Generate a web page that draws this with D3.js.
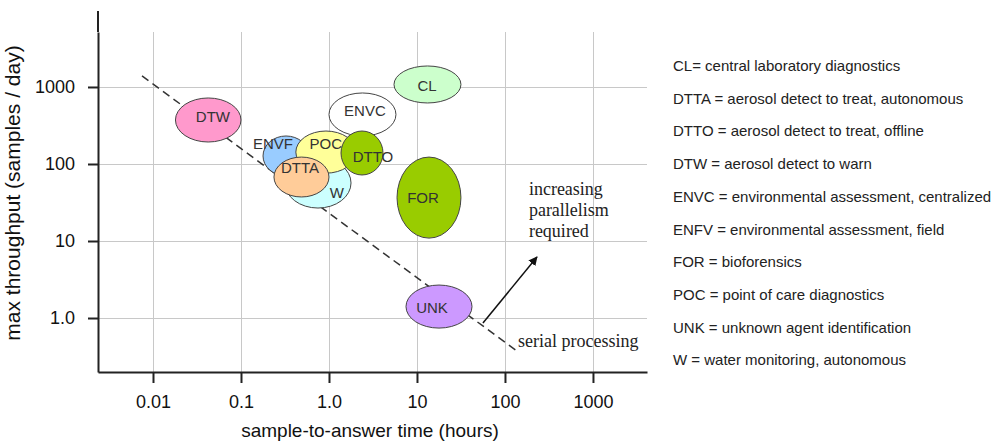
<!DOCTYPE html>
<html>
<head>
<meta charset="utf-8">
<script src="https://cdn.jsdelivr.net/npm/d3@7"></script>
<style>
body { margin: 0; background: #fff; }
svg { display: block; font-family: "Liberation Sans", Arial, sans-serif; }
.grid line { stroke: #c8c8c8; stroke-width: 1; }
.axis path, .axis line { stroke: #222; stroke-width: 2; fill: none; }
.axis text { font-size: 18px; fill: #111; font-family: "Liberation Sans", Arial, sans-serif; }
.blob { stroke: #444; stroke-width: 1; }
.blab { font-size: 15px; fill: #333; text-anchor: middle; dominant-baseline: central; }
.legend text { font-size: 15px; fill: #222; }
.note { font-family: "Liberation Serif", "Times New Roman", serif; font-size: 18px; fill: #222; }
</style>
</head>
<body>
<div id="chart"></div>
<script>
// applications: name, extent on both log axes, label spot
var names   = ["DTW", "ENVF", "W", "POC", "DTTA", "ENVC", "DTTO", "CL", "FOR", "UNK"];
var xLo     = [0.018, 0.178, 0.316, 0.42, 0.237, 1.0, 1.37, 5.48, 5.93, 7.5];
var xHi     = [0.1, 0.593, 1.78, 2.03, 1.0, 5.77, 4.11, 31.6, 31.6, 42.2];
var yLo     = [193, 70, 26.8, 76, 37.3, 231, 72, 620, 10.9, 0.74];
var yHi     = [720, 231, 120, 268, 123, 836, 268, 1874, 123, 2.68];
var labelX  = [0.048, 0.231, 1.23, 0.92, 0.468, 2.56, 3.16, 13.0, 11.7, 14.8];
var labelY  = [408, 182, 43, 187, 91, 488, 127, 1030, 36.2, 1.35];
var colors  = ["#ff99cc", "#99ccff", "#ccffff", "#ffff99", "#ffcc99", "#ffffff", "#99cc00", "#ccffcc", "#99cc00", "#cc99ff"];

var xTicks = [0.01, 0.1, 1, 10, 100, 1000];
var xTickLabels = ["0.01", "0.1", "1.0", "10", "100", "1000"];
var yTicks = [1, 10, 100, 1000];
var yTickLabels = ["1.0", "10", "100", "1000"];

var serialLine = [[0.0075, 1390], [137, 0.373]];
var arrowLine = [[56.2, 0.861], [231, 6.2]];
var noteLines = ["increasing", "parallelism", "required"];
var notePos = [187, 39.6];
var serialPos = [141, 0.42];

var legend = [
  "CL= central laboratory diagnostics",
  "DTTA  = aerosol detect to treat, autonomous",
  "DTTO = aerosol detect to treat, offline",
  "DTW = aerosol detect to warn",
  "ENVC = environmental assessment, centralized",
  "ENFV = environmental assessment, field",
  "FOR = bioforensics",
  "POC = point of care diagnostics",
  "UNK = unknown agent identification",
  "W = water monitoring, autonomous"
];

var W = 991, H = 442;
var svg = d3.select("#chart").append("svg").attr("width", W).attr("height", H);

var x = d3.scaleLog().domain([Math.pow(10, -2.625), Math.pow(10, 3.614)]).range([98, 647]);
var y = d3.scaleLog().domain([Math.pow(10, -0.701), Math.pow(10, 3.714)]).range([372, 32]);

// grid
var grid = svg.append("g").attr("class", "grid");
grid.selectAll(".gx").data(xTicks).enter().append("line")
  .attr("x1", function(d) { return Math.round(x(d)) + 0.5; })
  .attr("x2", function(d) { return Math.round(x(d)) + 0.5; })
  .attr("y1", y.range()[1]).attr("y2", y.range()[0]);
grid.selectAll(".gy").data(yTicks).enter().append("line")
  .attr("y1", function(d) { return Math.round(y(d)) + 0.5; })
  .attr("y2", function(d) { return Math.round(y(d)) + 0.5; })
  .attr("x1", x.range()[0]).attr("x2", x.range()[1]);

// serial processing line
svg.append("line")
  .attr("x1", x(serialLine[0][0])).attr("y1", y(serialLine[0][1]))
  .attr("x2", x(serialLine[1][0])).attr("y2", y(serialLine[1][1]))
  .attr("stroke", "#333").attr("stroke-width", 1.5).attr("stroke-dasharray", "8,5");

// blobs
var blobs = svg.append("g");
names.forEach(function(n, i) {
  var x0 = x(xLo[i]), x1 = x(xHi[i]), y0 = y(yHi[i]), y1 = y(yLo[i]);
  blobs.append("ellipse")
    .attr("class", "blob")
    .attr("cx", (x0 + x1) / 2).attr("cy", (y0 + y1) / 2)
    .attr("rx", (x1 - x0) / 2).attr("ry", (y1 - y0) / 2)
    .attr("fill", colors[i]);
});
names.forEach(function(n, i) {
  blobs.append("text").attr("class", "blab")
    .attr("x", x(labelX[i])).attr("y", y(labelY[i]))
    .text(n);
});

// axes
var xAxis = d3.axisBottom(x).tickValues(xTicks)
  .tickFormat(function(d, i) { return xTickLabels[i]; })
  .tickSizeInner(11).tickSizeOuter(0).tickPadding(12);
var yAxis = d3.axisLeft(y).tickValues(yTicks)
  .tickFormat(function(d, i) { return yTickLabels[i]; })
  .tickSizeInner(10).tickSizeOuter(0).tickPadding(13);

svg.append("g").attr("class", "axis")
  .attr("transform", "translate(0," + y.range()[0] + ")")
  .call(xAxis);
svg.append("g").attr("class", "axis")
  .attr("transform", "translate(" + x.range()[0] + ",0)")
  .call(yAxis);
svg.append("line")
  .attr("x1", x.range()[0]).attr("x2", x.range()[0])
  .attr("y1", 11).attr("y2", y.range()[1])
  .attr("stroke", "#222").attr("stroke-width", 2);

svg.append("text")
  .attr("x", 370).attr("y", 437)
  .attr("text-anchor", "middle")
  .style("font-size", "19px").attr("fill", "#111")
  .text("sample-to-answer time (hours)");
svg.append("text")
  .attr("transform", "translate(20,193) rotate(-90)")
  .attr("text-anchor", "middle")
  .style("font-size", "21px").attr("fill", "#111")
  .text("max throughput (samples / day)");

// arrow
svg.append("defs").append("marker")
  .attr("id", "head").attr("viewBox", "0 0 10 10")
  .attr("refX", 9).attr("refY", 5)
  .attr("markerWidth", 9).attr("markerHeight", 9)
  .attr("markerUnits", "userSpaceOnUse")
  .attr("orient", "auto")
  .append("path").attr("d", "M0,0L10,5L0,10z").attr("fill", "#111");
svg.append("line")
  .attr("x1", x(arrowLine[0][0])).attr("y1", y(arrowLine[0][1]))
  .attr("x2", x(arrowLine[1][0])).attr("y2", y(arrowLine[1][1]))
  .attr("stroke", "#111").attr("stroke-width", 1.5)
  .attr("marker-end", "url(#head)");

// notes
var note = svg.append("text").attr("class", "note")
  .attr("x", x(notePos[0])).attr("y", y(notePos[1]));
noteLines.forEach(function(t, i) {
  note.append("tspan").attr("x", x(notePos[0])).attr("dy", i == 0 ? 0 : 21).text(t);
});
svg.append("text").attr("class", "note")
  .attr("x", x(serialPos[0])).attr("y", y(serialPos[1]))
  .text("serial processing");

// legend
svg.append("g").attr("class", "legend")
  .selectAll("text").data(legend).enter().append("text")
  .attr("x", 673)
  .attr("y", function(d, i) { return 71 + i * 32.7; })
  .text(function(d) { return d; });
</script>
</body>
</html>
